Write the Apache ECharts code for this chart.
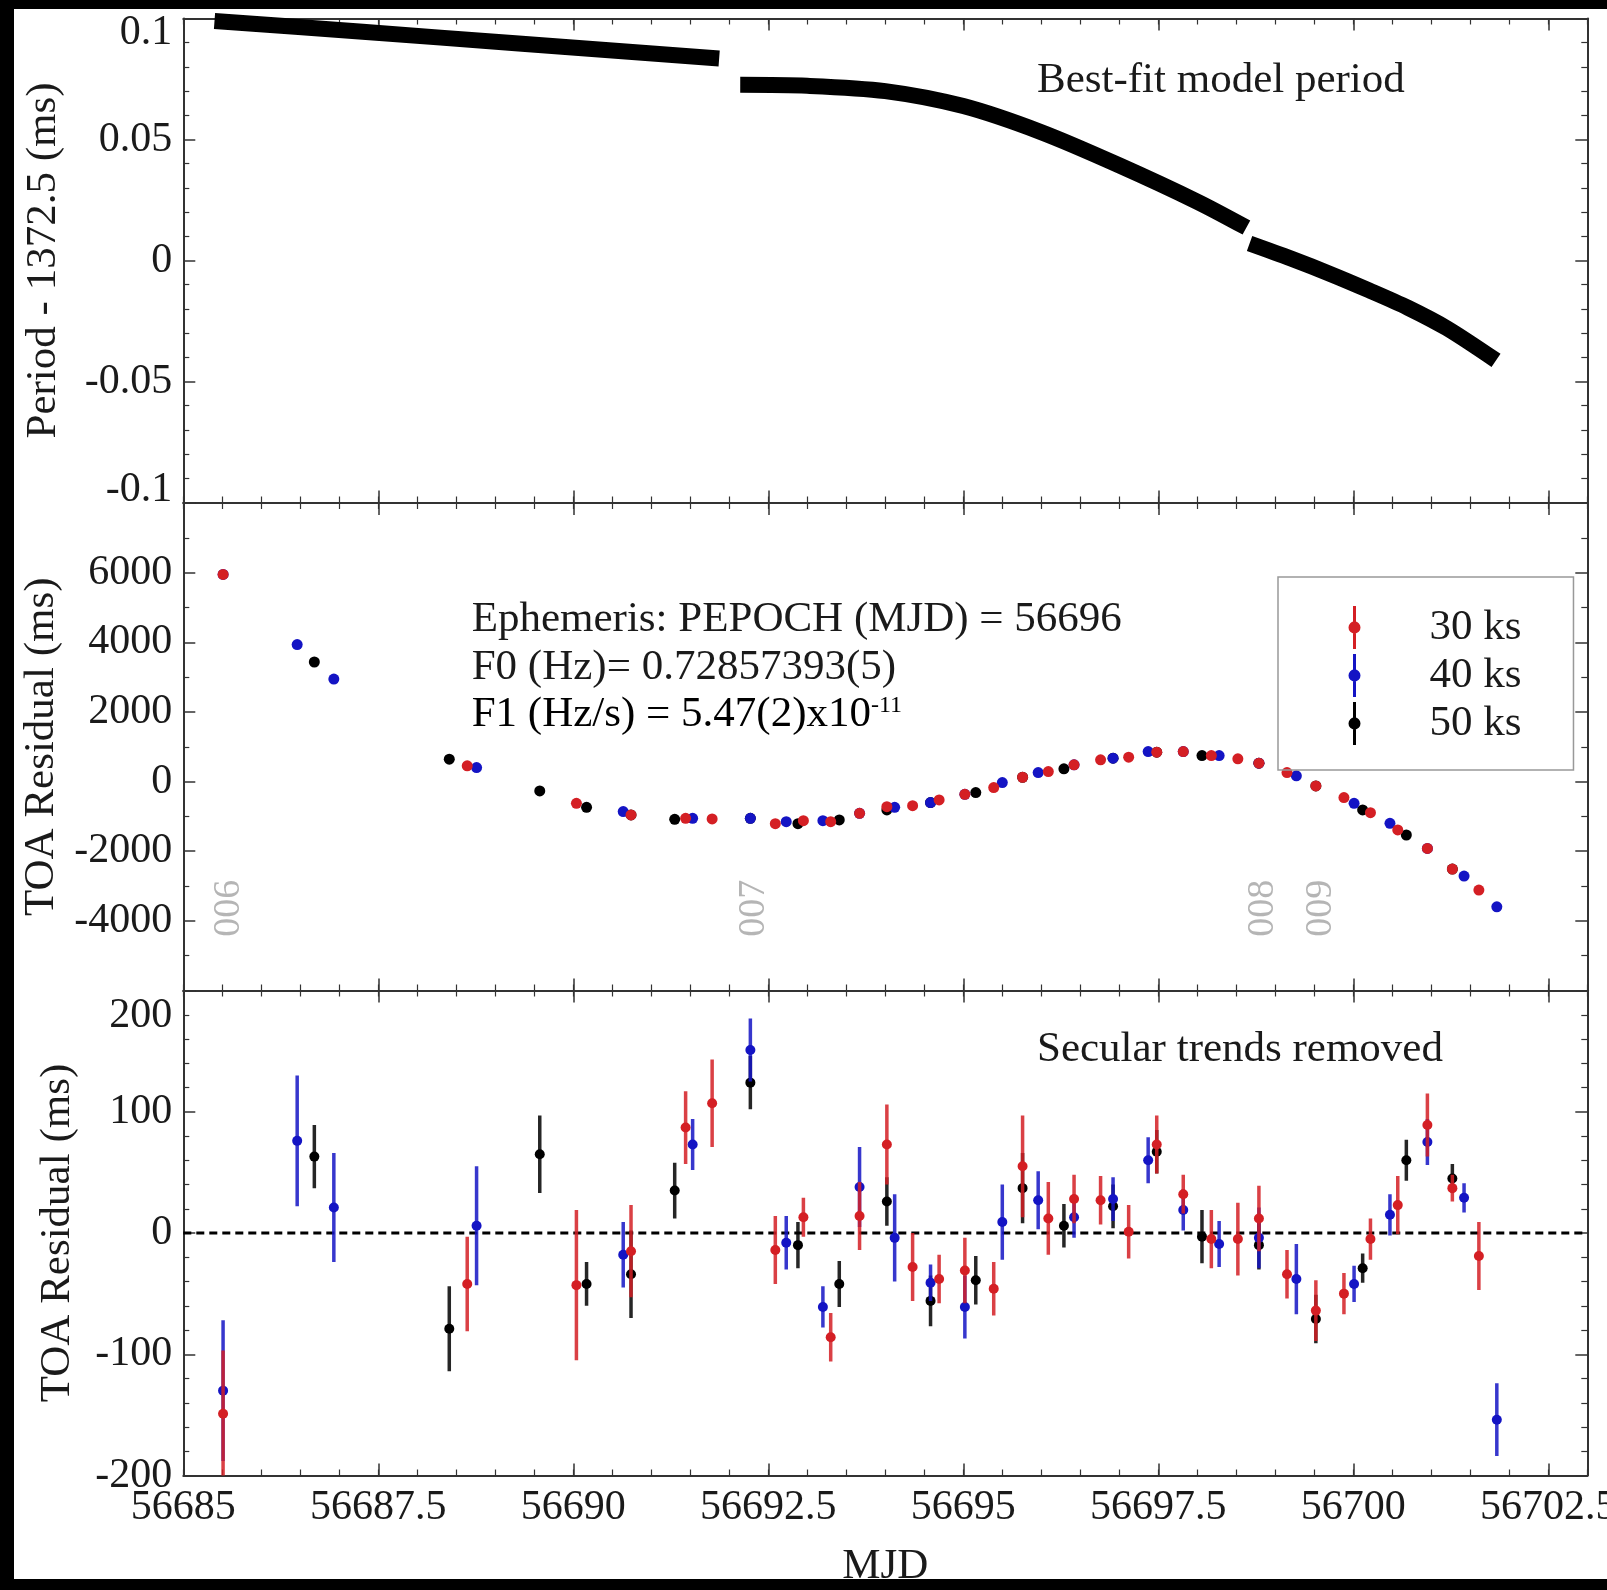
<!DOCTYPE html>
<html><head><meta charset="utf-8">
<script src="https://cdn.jsdelivr.net/npm/echarts@6/dist/echarts.min.js"></script>
<style>
html,body{margin:0;padding:0;background:#000;}
#wrap{position:relative;width:1607px;height:1590px;background:#000;overflow:hidden;}
#paper{position:absolute;left:14px;top:9px;width:1593px;height:1570px;background:#fff;}
#chart{position:absolute;left:0;top:0;width:1607px;height:1590px;}
</style></head><body>
<div id="wrap"><div id="paper"></div><div id="chart"></div></div>
<script>
// ---------- data ----------
const X_MIN = 56685, X_MAX = 56703;

// best-fit model period (Period - 1372.5 ms), three segments
const periodSeg1 = [[56685.40,0.0990],[56687.30,0.0945],[56689.30,0.0897],[56691.87,0.0835]];
const periodSeg2 = [[56692.14,0.0726],[56693.0,0.0722],[56694.0,0.0700],[56695.0,0.0638],[56696.0,0.0530],[56697.0,0.0393],[56698.0,0.0243],[56698.63,0.0136]];
const periodSeg3 = [[56698.67,0.0070],[56699.2,0.0008],[56699.7,-0.0055],[56700.2,-0.0123],[56700.7,-0.0195],[56701.2,-0.0280],[56701.83,-0.0413]];

// 30 ks (red)
const mjd30 = [56685.51,56688.64,56690.04,56690.74,56691.44,56691.78,56692.59,56692.95,56693.30,56693.67,56694.02,56694.35,56694.69,56695.02,56695.39,56695.76,56696.09,56696.42,56696.76,56697.12,56697.48,56697.82,56698.18,56698.52,56698.79,56699.15,56699.52,56699.88,56700.22,56700.57,56700.95,56701.27,56701.61];
const toa30 = [5950,451,-624,-959,-1055,-1074,-1209,-1122,-1151,-911,-720,-691,-527,-365,-173,124,288,480,624,700,843,863,748,653,527,259,-124,-460,-892,-1390,-1920,-2513,-3117];
const res30 = [-149,-42,-43,-15,87,107,-14,13,-86,14,73,-28,-38,-31,-46,55,12,28,27,1,73,32,-5,-5,12,-34,-64,-50,-5,23,89,37,-19];
const err30 = [52,39,62,38,30,36,28,16,20,28,33,28,20,27,22,42,30,20,20,22,24,16,24,30,27,20,25,17,17,24,26,11,28];

// 40 ks (blue)
const mjd40 = [56685.51,56686.46,56686.93,56688.76,56690.64,56691.53,56692.27,56692.73,56693.20,56693.67,56694.12,56694.58,56695.02,56695.50,56695.96,56696.42,56696.92,56697.37,56697.82,56698.28,56698.79,56699.27,56700.01,56700.47,56700.95,56701.42,56701.84];
const toa40 = [5950,3934,2945,403,-863,-1055,-1055,-1151,-1122,-911,-739,-604,-365,-29,259,480,671,863,863,748,527,164,-624,-1200,-1920,-2714,-3598];
const res40 = [-130,76,21,6,-18,73,151,-8,-61,38,-4,-41,-61,9,27,13,28,60,19,-9,-4,-38,-42,15,75,29,-154];
const err40 = [58,54,45,49,27,21,26,22,17,33,36,15,26,31,24,17,18,19,17,19,25,29,15,17,19,12,30];

// 50 ks (black)
const mjd50 = [56686.68,56688.41,56689.57,56690.17,56690.74,56691.30,56692.27,56692.88,56693.41,56694.02,56694.58,56695.16,56695.76,56696.29,56696.92,56697.48,56698.06,56698.79,56699.52,56700.12,56700.68,56701.27];
const toa50 = [3434,642,-268,-739,-959,-1084,-1055,-1209,-1103,-815,-604,-317,124,365,671,843,748,527,-124,-815,-1534,-2513];
const res50 = [63,-79,65,-42,-34,35,124,-10,-42,26,-56,-39,37,6,22,67,-3,-10,-71,-29,60,45];
const err50 = [26,35,32,18,36,23,22,19,19,20,21,20,29,18,18,18,22,20,20,12,17,12];

// observation markers
const obsNames = ['006','007','008','009'];
const obsMjd = [56685.585,56692.32,56698.84,56699.59];
const obsLevel = -3640;

const zeroLine = [[X_MIN,0],[X_MAX,0]];

// ---------- styling ----------
const FONT = 'Liberation Serif';
const TXT = '#1a1a1a';
const AX = '#333';
const RED = '#d41f24', BLUE = '#1414c4', BLACK = '#000000';

function xMajor(grid, pos, showLabel) {
  const a = {
    type:'value', gridIndex:grid, position:pos, min:X_MIN, max:X_MAX, interval:2.5,
    axisLine:{show:true,onZero:false,lineStyle:{color:AX,width:2}},
    axisTick:{show:true,inside:true,length:12,lineStyle:{color:AX,width:1.5}},
    minorTick:{show:false}, splitLine:{show:false},
    axisLabel:{show:showLabel,margin:11,fontFamily:FONT,fontSize:42,color:TXT,
      formatter:v=>String(v),showMinLabel:true,showMaxLabel:false}
  };
  if (showLabel) {
    a.name = 'MJD'; a.nameLocation = 'middle'; a.nameGap = 70;
    a.nameTextStyle = {fontFamily:FONT,fontSize:43,color:TXT};
  }
  return a;
}
function xMinor(grid, pos) {
  return {type:'value', gridIndex:grid, position:pos, min:X_MIN, max:X_MAX, interval:0.5,
    axisLine:{show:false,onZero:false},
    axisTick:{show:true,inside:true,length:6,lineStyle:{color:AX,width:1.2}},
    axisLabel:{show:false}, splitLine:{show:false}};
}
function yAx(grid, pos, c, showLabel) {
  const lab = {show:showLabel,margin:11,fontFamily:FONT,fontSize:42,color:TXT,
    showMinLabel:c.showMin,showMaxLabel:c.showMax,
    formatter:function(v){
      if (c.padMax && v === c.max) return '{dn|' + v + '}';
      if (c.padMin && v === c.min) return '{up|' + v + '}';
      return String(v);
    },
    rich:{
      dn:{fontFamily:FONT,fontSize:42,color:TXT,padding:[c.padMax||0,0,0,0]},
      up:{fontFamily:FONT,fontSize:42,color:TXT,padding:[0,0,c.padMin||0,0]}
    }};
  const a = {
    type:'value', gridIndex:grid, position:pos, min:c.min, max:c.max, interval:c.interval,
    axisLine:{show:true,onZero:false,lineStyle:{color:AX,width:2}},
    axisTick:{show:true,inside:true,length:12,lineStyle:{color:AX,width:1.5}},
    minorTick:{show:true,splitNumber:c.minor,length:6,lineStyle:{color:AX,width:1.2}},
    splitLine:{show:false}, minorSplitLine:{show:false},
    axisLabel:lab
  };
  if (showLabel) {
    a.name = c.name; a.nameLocation = 'middle'; a.nameRotate = 90; a.nameGap = c.nameGap;
    a.nameTextStyle = {fontFamily:FONT,fontSize:43,color:TXT};
  }
  return a;
}
const yCfg = [
  {min:-0.1,max:0.1,interval:0.05,minor:5,showMin:true,showMax:true,padMax:28,padMin:26,name:'Period - 1372.5 (ms)',nameGap:118},
  {min:-6000,max:8000,interval:2000,minor:2,showMin:false,showMax:false,name:'TOA Residual (ms)',nameGap:117},
  {min:-200,max:200,interval:100,minor:5,showMin:true,showMax:true,padMax:50,name:'TOA Residual (ms)',nameGap:104}
];

const grids = [
  {left:183.3,top:18.5,width:1404,height:484},
  {left:183.3,top:503,width:1404,height:487.5},
  {left:183.3,top:990.5,width:1404,height:485}
].map(g => Object.assign(g,{containLabel:false,outerBoundsMode:'none'}));

const xAxes = [], yAxes = [];
for (let g = 0; g < 3; g++) {
  xAxes.push(xMajor(g,'bottom',g===2), xMinor(g,'bottom'), xMajor(g,'top',false), xMinor(g,'top'));
  yAxes.push(yAx(g,'left',yCfg[g],true), yAx(g,'right',yCfg[g],false));
}

function zip2(a,b){return a.map((v,i)=>[v,b[i]]);}
function zip3(a,b,c){return a.map((v,i)=>[v,b[i],c[i]]);}

function errRender(color){
  return function(params, api){
    const x = api.value(0), y = api.value(1), e = api.value(2);
    const p0 = api.coord([x,y-e]), p1 = api.coord([x,y+e]), pc = api.coord([x,y]);
    return {type:'group',children:[
      {type:'line',shape:{x1:p0[0],y1:p0[1],x2:p1[0],y2:p1[1]},style:{stroke:color,lineWidth:3.5,opacity:0.85}},
      {type:'circle',shape:{cx:pc[0],cy:pc[1],r:5},style:{fill:color}}
    ]};
  };
}

const periodLine = d => ({type:'line',xAxisIndex:0,yAxisIndex:0,data:d,symbol:'none',smooth:0.3,
  clip:true,silent:true,lineStyle:{color:'#000',width:16,cap:'butt'},z:3});

const groups = [
  {name:'50 ks',color:BLACK,mjd:mjd50,toa:toa50,res:res50,err:err50},
  {name:'40 ks',color:BLUE,mjd:mjd40,toa:toa40,res:res40,err:err40},
  {name:'30 ks',color:RED,mjd:mjd30,toa:toa30,res:res30,err:err30}
];

const series = [periodLine(periodSeg1), periodLine(periodSeg2), periodLine(periodSeg3)];
series.push({type:'line',xAxisIndex:8,yAxisIndex:4,data:zeroLine,symbol:'none',silent:true,
  lineStyle:{color:'#000',width:3,type:[8,5]},z:1});
groups.forEach(gp => {
  series.push({type:'scatter',name:gp.name,xAxisIndex:4,yAxisIndex:2,data:zip2(gp.mjd,gp.toa),
    symbolSize:11,itemStyle:{color:gp.color,opacity:1},z:3});
});
groups.forEach(gp => {
  series.push({type:'custom',name:gp.name,xAxisIndex:8,yAxisIndex:4,data:zip3(gp.mjd,gp.res,gp.err),
    renderItem:errRender(gp.color),clip:true,encode:{x:0,y:1},itemStyle:{color:gp.color},z:3});
});
series.push({type:'scatter',name:'obs',xAxisIndex:4,yAxisIndex:2,silent:true,
  data:obsMjd.map((m,i)=>({value:[m,obsLevel],name:obsNames[i]})),
  symbolSize:2,itemStyle:{color:'rgba(0,0,0,0)'},
  label:{show:true,formatter:'{b}',rotate:90,position:'inside',color:'#a3a3a3',fontFamily:FONT,fontSize:38}});

const ERR_ICON = 'path://M4.5,0h3v42h-3z M0,21a6,6 0 1,1 12,0a6,6 0 1,1 -12,0z';

const option = {
  backgroundColor:'transparent',
  animation:false,
  grid:grids,
  xAxis:xAxes,
  yAxis:yAxes,
  legend:{data:['30 ks','40 ks','50 ks'],orient:'vertical',left:1278,top:577,
    padding:[29,52,25,70.5],itemWidth:12,itemHeight:43,itemGap:5,icon:ERR_ICON,symbolKeepAspect:false,
    borderColor:'#999',borderWidth:1.5,selectedMode:false,itemStyle:{borderWidth:0},
    formatter:name => '{t|' + name + '}',
    textStyle:{fontFamily:FONT,fontSize:43,color:TXT,
      rich:{t:{fontFamily:FONT,fontSize:43,color:TXT,padding:[0,0,0,64]}}}},
  graphic:[
    {type:'text',x:1037,y:81,style:{text:'Best-fit model period',font:'43px "Liberation Serif"',fill:TXT,verticalAlign:'middle'}},
    {type:'text',x:1037,y:1050,style:{text:'Secular trends removed',font:'43px "Liberation Serif"',fill:TXT,verticalAlign:'middle'}},
    {type:'text',x:471.7,y:620,style:{text:'Ephemeris: PEPOCH (MJD) = 56696',font:'43px "Liberation Serif"',fill:TXT,verticalAlign:'middle'}},
    {type:'text',x:471.7,y:667.5,style:{text:'F0 (Hz)= 0.72857393(5)',font:'43px "Liberation Serif"',fill:TXT,verticalAlign:'middle'}},
    {type:'text',x:471.7,y:715,style:{text:'{m|F1 (Hz/s) = 5.47(2)x10}{s|-11}',verticalAlign:'middle',
      rich:{m:{fontFamily:FONT,fontSize:43,color:TXT,lineHeight:43},
            s:{fontFamily:FONT,fontSize:24,color:TXT,lineHeight:24,verticalAlign:'top'}}}}
  ],
  series:series
};

const chart = echarts.init(document.getElementById('chart'), null, {renderer:'canvas'});
chart.setOption(option);
</script>
</body></html>
